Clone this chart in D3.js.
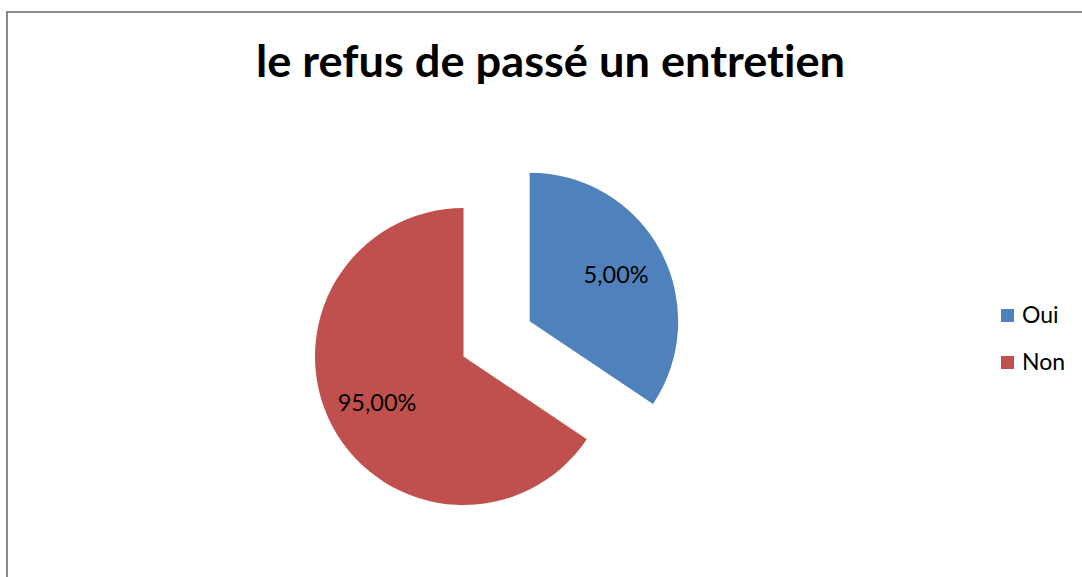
<!DOCTYPE html>
<html>
<head>
<meta charset="utf-8">
<script src="https://cdn.jsdelivr.net/npm/d3@7"></script>
<style>
  html, body { margin: 0; padding: 0; background: #ffffff; }
  svg { display: block; }
  text { font-family: Lato, "Open Sans", "Liberation Sans", sans-serif; font-variant-ligatures: none; font-feature-settings: "liga" 0, "dlig" 0; }
</style>
</head>
<body>
<svg id="chart" width="1082" height="577"></svg>
<script>
// Chart data
const chartTitle = "le refus de passé un entretien";
const categories = ["Oui", "Non"];
const sliceShares = [34.4, 65.6];          // wedge sizes as drawn
const valueLabels = ["5,00%", "95,00%"];   // data label texts
const sliceColors = ["#4F81BD", "#C0504D"];
const explodeOffsets = [75, 0];            // only "Oui" is pulled out

const width = 1082, height = 577;
const svg = d3.select("#chart");

// Chart area frame (top and left edges visible)
svg.append("path")
  .attr("d", `M7,${height} L7,12 L${width},12`)
  .attr("fill", "none")
  .attr("stroke", "#8a8a8a")
  .attr("stroke-width", 2);

// Title, fitted to its box width
svg.append("text")
  .attr("x", 550.5)
  .attr("y", 77)
  .attr("text-anchor", "middle")
  .attr("font-size", 43)
  .attr("font-weight", "bold")
  .attr("fill", "#000")
  .attr("textLength", 589)
  .attr("lengthAdjust", "spacingAndGlyphs")
  .text(chartTitle);

// Pie
const cx = 463.5, cy = 356.5, radius = 148.5;
const data = categories.map((c, i) => ({
  category: c, share: sliceShares[i], label: valueLabels[i],
  color: sliceColors[i], explode: explodeOffsets[i]
}));

const pie = d3.pie().sort(null).value(d => d.share);
const arc = d3.arc().innerRadius(0).outerRadius(radius);
const labelArc = d3.arc().innerRadius(98).outerRadius(98);

const slices = svg.append("g").selectAll("g")
  .data(pie(data))
  .join("g")
  .attr("transform", d => {
    const mid = (d.startAngle + d.endAngle) / 2;
    const ox = cx + d.data.explode * Math.sin(mid);
    const oy = cy - d.data.explode * Math.cos(mid);
    return `translate(${ox},${oy})`;
  });

slices.append("path")
  .attr("d", arc)
  .attr("fill", d => d.data.color);

slices.append("text")
  .attr("transform", d => `translate(${labelArc.centroid(d)})`)
  .attr("text-anchor", "middle")
  .attr("dy", "0.35em")
  .attr("font-size", 23.5)
  .attr("fill", "#000")
  .text(d => d.data.label);

// Legend
const legend = svg.append("g").attr("transform", "translate(1001,309)");
const items = legend.selectAll("g")
  .data(data)
  .join("g")
  .attr("transform", (d, i) => `translate(0,${i * 47})`);
items.append("rect")
  .attr("width", 13).attr("height", 13)
  .attr("fill", d => d.color);
items.append("text")
  .attr("x", 21).attr("y", 14)
  .attr("font-size", 23)
  .attr("fill", "#000")
  .text(d => d.category);
</script>
</body>
</html>
